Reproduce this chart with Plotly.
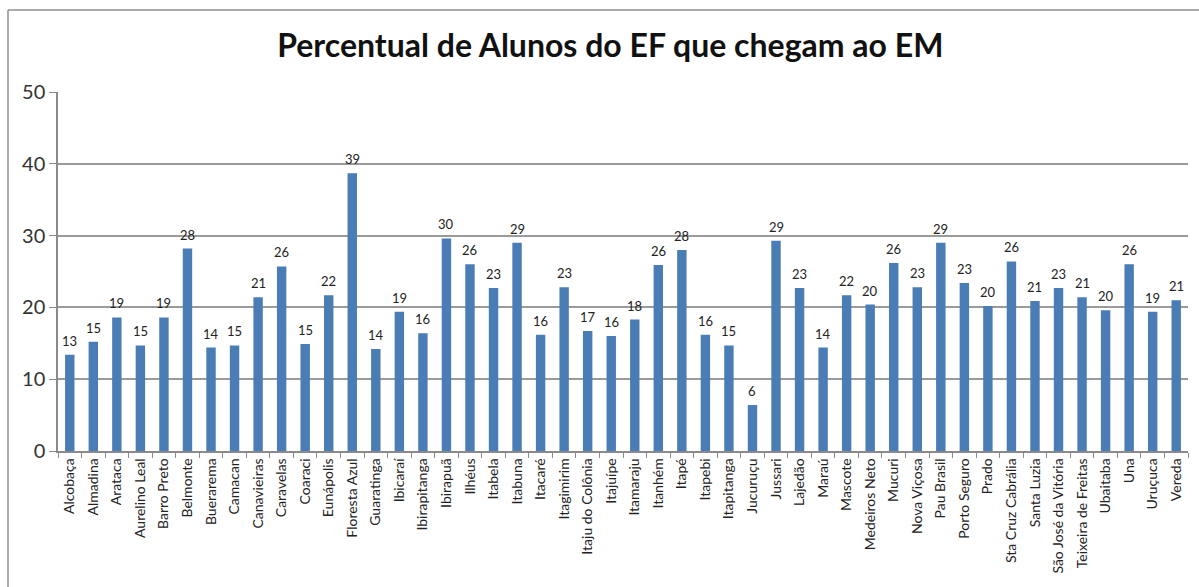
import plotly.graph_objects as go

# Municípios (eixo das categorias)
municipios = [
    "Alcobaça", "Almadina", "Arataca", "Aurelino Leal", "Barro Preto", "Belmonte",
    "Buerarema", "Camacan", "Canavieiras", "Caravelas", "Coaraci", "Eunápolis",
    "Floresta Azul", "Guaratinga", "Ibicaraí", "Ibirapitanga", "Ibirapuã", "Ilhéus",
    "Itabela", "Itabuna", "Itacaré", "Itagimirim", "Itaju do Colônia", "Itajuípe",
    "Itamaraju", "Itanhém", "Itapé", "Itapebi", "Itapitanga", "Jucuruçu",
    "Jussari", "Lajedão", "Maraú", "Mascote", "Medeiros Neto", "Mucuri",
    "Nova Viçosa", "Pau Brasil", "Porto Seguro", "Prado", "Sta Cruz Cabrália", "Santa Luzia",
    "São José da Vitória", "Teixeira de Freitas", "Ubaitaba", "Una", "Uruçuca", "Vereda",
]

# Percentual de alunos do EF que chegam ao EM
percentual = [
    13.4, 15.2, 18.6, 14.7, 18.6, 28.2,
    14.4, 14.7, 21.4, 25.7, 14.9, 21.7,
    38.7, 14.2, 19.4, 16.4, 29.6, 26.0,
    22.7, 29.0, 16.2, 22.8, 16.7, 16.0,
    18.3, 25.9, 28.0, 16.2, 14.7, 6.4,
    29.3, 22.7, 14.4, 21.7, 20.4, 26.2,
    22.8, 29.0, 23.4, 20.2, 26.4, 20.9,
    22.7, 21.4, 19.6, 26.0, 19.4, 21.0,
]

eixo_y_ticks = [0, 10, 20, 30, 40, 50]

W, H = 1199, 587
ML, MR, MT, MB = 58, 11, 92, 136
plot_w = W - ML - MR
plot_h = H - MT - MB
FONTE = "Lato, Open Sans, sans-serif"

fig = go.Figure(
    go.Bar(
        x=municipios,
        y=percentual,
        marker=dict(color="#4A7DB5", line=dict(width=0)),
        hoverinfo="x+y",
    )
)

# Rótulos de dados acima de cada barra
for m, v in zip(municipios, percentual):
    fig.add_annotation(
        x=m, y=v, text=f"{round(v):d}",
        showarrow=False, yanchor="bottom", yshift=4,
        font=dict(family=FONTE, size=13, color="#222"),
    )

fig.update_layout(
    width=W,
    height=H,
    margin=dict(l=ML, r=MR, t=MT, b=MB, autoexpand=False),
    paper_bgcolor="white",
    plot_bgcolor="white",
    bargap=0.6,
    showlegend=False,
    title=dict(
        text="<b>Percentual de Alunos do EF que chegam ao EM</b>",
        x=0.509,
        xanchor="center",
        y=1 - 46 / H,
        yanchor="middle",
        font=dict(family=FONTE, size=32, color="#111"),
    ),
    xaxis=dict(
        type="category",
        tickangle=-90,
        tickfont=dict(family=FONTE, size=14, color="#222"),
        showline=True,
        linecolor="#8a8a8a",
        linewidth=1.5,
        ticks="outside",
        tickson="boundaries",
        ticklen=5,
        tickcolor="#8a8a8a",
        showgrid=False,
        range=[-0.5, len(municipios) - 0.5],
    ),
    yaxis=dict(
        range=[0, 50],
        tickvals=eixo_y_ticks,
        tickfont=dict(family=FONTE, size=20, color="#333"),
        showline=True,
        linecolor="#8a8a8a",
        linewidth=1.5,
        ticks="outside",
        ticklen=7,
        tickcolor="#8a8a8a",
        showgrid=True,
        gridcolor="#9a9a9a",
        gridwidth=1.5,
        zeroline=False,
    ),
)

# Moldura do gráfico (bordas superior e esquerda visíveis)
x_left = (8 - ML) / plot_w
y_top = (H - MB - 10) / plot_h
y_bottom = (H - MB - H - 5) / plot_h
fig.add_shape(type="line", xref="paper", yref="paper",
              x0=x_left, x1=1.1, y0=y_top, y1=y_top,
              line=dict(color="#8f8f8f", width=1.5))
fig.add_shape(type="line", xref="paper", yref="paper",
              x0=x_left, x1=x_left, y0=y_top, y1=y_bottom,
              line=dict(color="#8f8f8f", width=1.5))

fig.write_html("out.html")
